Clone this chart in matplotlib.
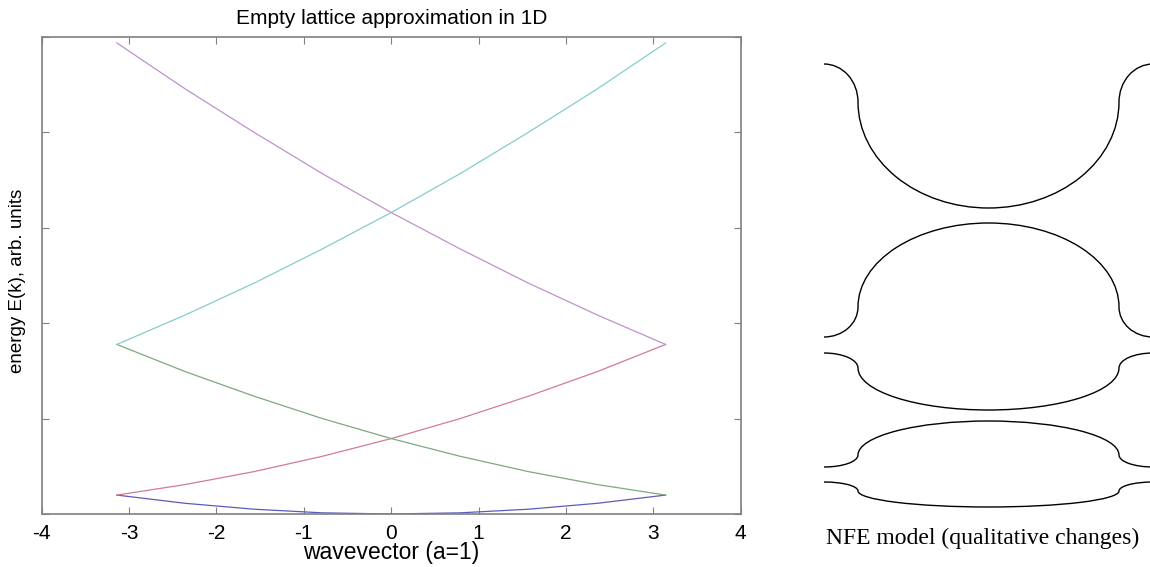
import numpy as np
import matplotlib.pyplot as plt
from matplotlib.patches import Arc

# wavevector samples across the first Brillouin zone
k = [-3.14, -2.36, -1.57, -0.79, 0.0, 0.79, 1.57, 2.36, 3.14]

# energies, one list per band
e_blue = [9.9, 5.6, 2.5, 0.6, 0.0, 0.6, 2.5, 5.6, 9.9]
e_red = [9.9, 15.4, 22.2, 30.2, 39.5, 50.0, 61.7, 74.6, 88.8]
e_green = [88.8, 74.6, 61.7, 50.0, 39.5, 30.2, 22.2, 15.4, 9.9]
e_cyan = [88.8, 104.2, 120.9, 138.8, 157.9, 178.3, 199.9, 222.7, 246.7]
e_magenta = [246.7, 222.7, 199.9, 178.3, 157.9, 138.8, 120.9, 104.2, 88.8]

x_ticks = [-4, -3, -2, -1, 0, 1, 2, 3, 4]
y_ticks = [0, 50, 100, 150, 200, 250]

# NFE sketch (pixel units): junction height, outer end height, main arc depth
nfe_base = [102, 307, 368, 455, 491]
nfe_edge = [64, 337, 353, 467, 482]
nfe_depth = [106, -84, 42, -34, 16]

fig = plt.figure(figsize=(11.5, 5.67), dpi=100)
ax = fig.add_axes([0.0363, 0.0935, 0.6078, 0.8418])

ax.plot(k, e_blue, color='#5c5cb8', lw=0.9)
ax.plot(k, e_red, color='#d27c92', lw=0.9)
ax.plot(k, e_green, color='#7fa87f', lw=0.9)
ax.plot(k, e_cyan, color='#86cccc', lw=0.9)
ax.plot(k, e_magenta, color='#c092cc', lw=0.9)

ax.set_xlim(-4, 4)
ax.set_ylim(0, 250)
ax.set_xticks(x_ticks)
ax.set_xticklabels([str(t) for t in x_ticks], fontfamily='Liberation Sans', fontsize=15)
ax.set_yticks(y_ticks)
ax.set_yticklabels([])
ax.tick_params(direction='in', length=5, color='#808080', top=True, right=True, pad=7)
for s in ax.spines.values():
    s.set_color('#808080')
    s.set_linewidth(1.2)

ax.set_title('Empty lattice approximation in 1D', fontfamily='Liberation Sans', fontsize=15, pad=9)
ax.set_xlabel('wavevector (a=1)', fontfamily='Liberation Sans', fontsize=16.5, labelpad=-1)
ax.set_ylabel('energy E(k), arb. units', fontfamily='Liberation Sans', fontsize=13.5)
ax.yaxis.set_label_coords(-0.023, 0.488)

# right panel drawn in pixel coordinates
ax2 = fig.add_axes([0, 0, 1, 1], zorder=-1)
ax2.set_xlim(0, 1150)
ax2.set_ylim(567, 0)
ax2.axis('off')

left_j, right_j = 858, 1119
cx = (left_j + right_j) / 2
rx = (right_j - left_j) / 2
erx = 34
for base, edge, depth in zip(nfe_base, nfe_edge, nfe_depth):
    if depth > 0:
        ax2.add_patch(Arc((cx, base), 2 * rx, 2 * depth, theta1=0, theta2=180, color='k', lw=1.0))
    else:
        ax2.add_patch(Arc((cx, base), 2 * rx, -2 * depth, theta1=180, theta2=360, color='k', lw=1.0))
    eh = 2 * abs(edge - base)
    if edge < base:
        ax2.add_patch(Arc((left_j - erx, base), 2 * erx, eh, theta1=270, theta2=360, color='k', lw=1.0))
        ax2.add_patch(Arc((right_j + erx, base), 2 * erx, eh, theta1=180, theta2=270, color='k', lw=1.0))
    else:
        ax2.add_patch(Arc((left_j - erx, base), 2 * erx, eh, theta1=0, theta2=90, color='k', lw=1.0))
        ax2.add_patch(Arc((right_j + erx, base), 2 * erx, eh, theta1=90, theta2=180, color='k', lw=1.0))

fig.text(983, 567 - 538, 'NFE model (qualitative changes)', transform=None,
         fontfamily='Liberation Serif', fontsize=17, ha='center', va='center')

fig.savefig('out.png', dpi=100)
